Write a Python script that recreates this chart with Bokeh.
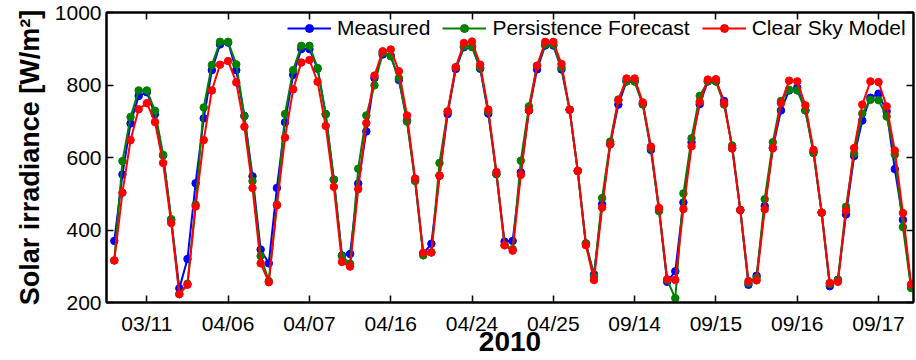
from bokeh.plotting import figure
from bokeh.models import (ColumnDataSource, FixedTicker, LinearAxis, Legend,
                          LegendItem, Range1d, CustomJSTickFormatter)
from bokeh.embed import file_html
from bokeh.resources import INLINE

# Day labels (one per 10-sample day block) and the three irradiance series, W/m^2
day_labels = ["03/11", "04/06", "04/07", "04/16", "04/24",
              "04/25", "09/14", "09/15", "09/16", "09/17"]
year_label = "2010"

measured = [370, 553, 694, 770, 780, 719, 606, 428, 239,
            320, 529, 708, 841, 912, 917, 841, 715, 548, 346,
            308, 516, 697, 828, 899, 899, 845, 720, 539, 330,
            334, 528, 672, 819, 884, 881, 814, 702, 537, 335,
            362, 550, 720, 844, 904, 905, 845, 721, 554, 368,
            370, 559, 730, 843, 909, 909, 843, 732, 563, 363,
            277, 471, 637, 746, 810, 810, 748, 621, 456, 257,
            286, 476, 642, 747, 810, 810, 756, 625, 455, 249,
            274, 466, 626, 730, 785, 793, 730, 615, 448, 245,
            263, 443, 604, 702, 765, 776, 727, 568, 428, 245]

persistence = [316, 590, 712, 785, 785, 729, 607, 430, 223,
               252, 470, 738, 855, 919, 919, 857, 714, 535, 328,
               259, 470, 720, 841, 908, 908, 847, 719, 539, 328,
               307, 569, 716, 799, 889, 879, 819, 699, 535, 330,
               338, 585, 727, 849, 907, 905, 848, 727, 554, 358,
               347, 591, 741, 853, 912, 912, 848, 732, 563, 363,
               272, 488, 644, 760, 810, 810, 746, 626, 452, 262,
               212, 501, 653, 770, 810, 810, 746, 633, 455, 254,
               268, 485, 642, 756, 787, 785, 730, 612, 448, 251,
               262, 464, 611, 721, 759, 758, 713, 608, 408, 240]

clear_sky = [316, 503, 648, 733, 750, 698, 585, 419, 223,
             249, 465, 648, 785, 856, 866, 807, 685, 516, 308,
             256, 468, 655, 788, 862, 869, 809, 687, 519, 312,
             299, 513, 695, 826, 893, 898, 838, 716, 542, 337,
             338, 550, 727, 849, 916, 920, 856, 732, 560, 358,
             343, 552, 730, 853, 919, 919, 858, 732, 563, 358,
             262, 462, 636, 758, 818, 818, 752, 630, 461, 264,
             262, 458, 631, 754, 815, 816, 750, 626, 455, 259,
             261, 457, 626, 750, 812, 810, 744, 621, 448, 254,
             257, 453, 626, 746, 810, 808, 741, 619, 447, 250]

y_ticks = [200, 400, 600, 800, 1000]

SAMPLES_PER_DAY = 10
MIDDAY_OFFSET = 4

sample = list(range(len(measured)))
src = ColumnDataSource(dict(x=sample, measured=measured,
                            persistence=persistence, clear_sky=clear_sky))
day_ticks = [MIDDAY_OFFSET + SAMPLES_PER_DAY * k for k in range(len(day_labels))]

SANS = "Liberation Sans"

p = figure(width=916, height=360, output_backend="svg", toolbar_location=None,
           x_range=Range1d(-0.96, 98.3), y_range=Range1d(200, 1000),
           min_border_left=106, min_border_right=3, min_border_top=12,
           min_border_bottom=58)
p.grid.visible = False
p.outline_line_color = "black"
p.outline_line_width = 2
p.background_fill_color = "white"
p.border_fill_color = "white"

# bottom axis: day labels at each day's midday sample, year as the axis title
xax = p.xaxis[0]
xax.ticker = FixedTicker(ticks=day_ticks)
xax.major_label_overrides = {t: lab for t, lab in zip(day_ticks, day_labels)}
xax.axis_label = year_label

yax = p.yaxis[0]
yax.ticker = FixedTicker(ticks=y_ticks)
yax.axis_label = "Solar irradiance [W/m²]"

for ax in (xax, yax):
    ax.major_tick_in = 7
    ax.major_tick_out = 0
    ax.minor_tick_line_color = None
    ax.axis_line_width = 2
    ax.major_tick_line_width = 1.5
    ax.major_label_text_font = SANS
    ax.major_label_text_font_size = "21px"
    ax.major_label_text_color = "black"
    ax.axis_label_text_font = SANS
    ax.axis_label_text_font_style = "bold"
    ax.axis_label_text_color = "black"

xax.major_label_standoff = 9
xax.axis_label_standoff = -6
xax.axis_label_text_font_size = "28px"
yax.major_label_standoff = 5
yax.axis_label_standoff = 7
yax.axis_label_text_font_size = "27px"

# mirrored tick marks on the top and right edges
blank = CustomJSTickFormatter(code="return ''")
top = LinearAxis(ticker=FixedTicker(ticks=day_ticks), formatter=blank)
right = LinearAxis(ticker=FixedTicker(ticks=y_ticks), formatter=blank)
for ax in (top, right):
    ax.major_tick_in = 7
    ax.major_tick_out = 0
    ax.minor_tick_line_color = None
    ax.axis_line_width = 2
    ax.major_tick_line_width = 1.5
    ax.major_label_standoff = 0
p.add_layout(top, "above")
p.add_layout(right, "right")

series = [("measured", "Measured", "#0000FF"),
          ("persistence", "Persistence Forecast", "#008000"),
          ("clear_sky", "Clear Sky Model", "#FF0000")]
items = []
for col, name, color in series:
    ln = p.line("x", col, source=src, line_color=color, line_width=2)
    pt = p.scatter("x", col, source=src, size=7.5, fill_color=color,
                   line_color=color, marker="circle")
    items.append(LegendItem(label=name, renderers=[ln, pt]))

legend = Legend(items=items, orientation="horizontal", location=(181, 262),
                margin=0, padding=0, spacing=12, glyph_width=44, glyph_height=20,
                label_standoff=6, label_text_font=SANS, label_text_font_size="21px",
                label_text_color="black", border_line_color=None,
                background_fill_alpha=0)
p.add_layout(legend, "center")

open("out.html", "w").write(file_html(p, INLINE))
